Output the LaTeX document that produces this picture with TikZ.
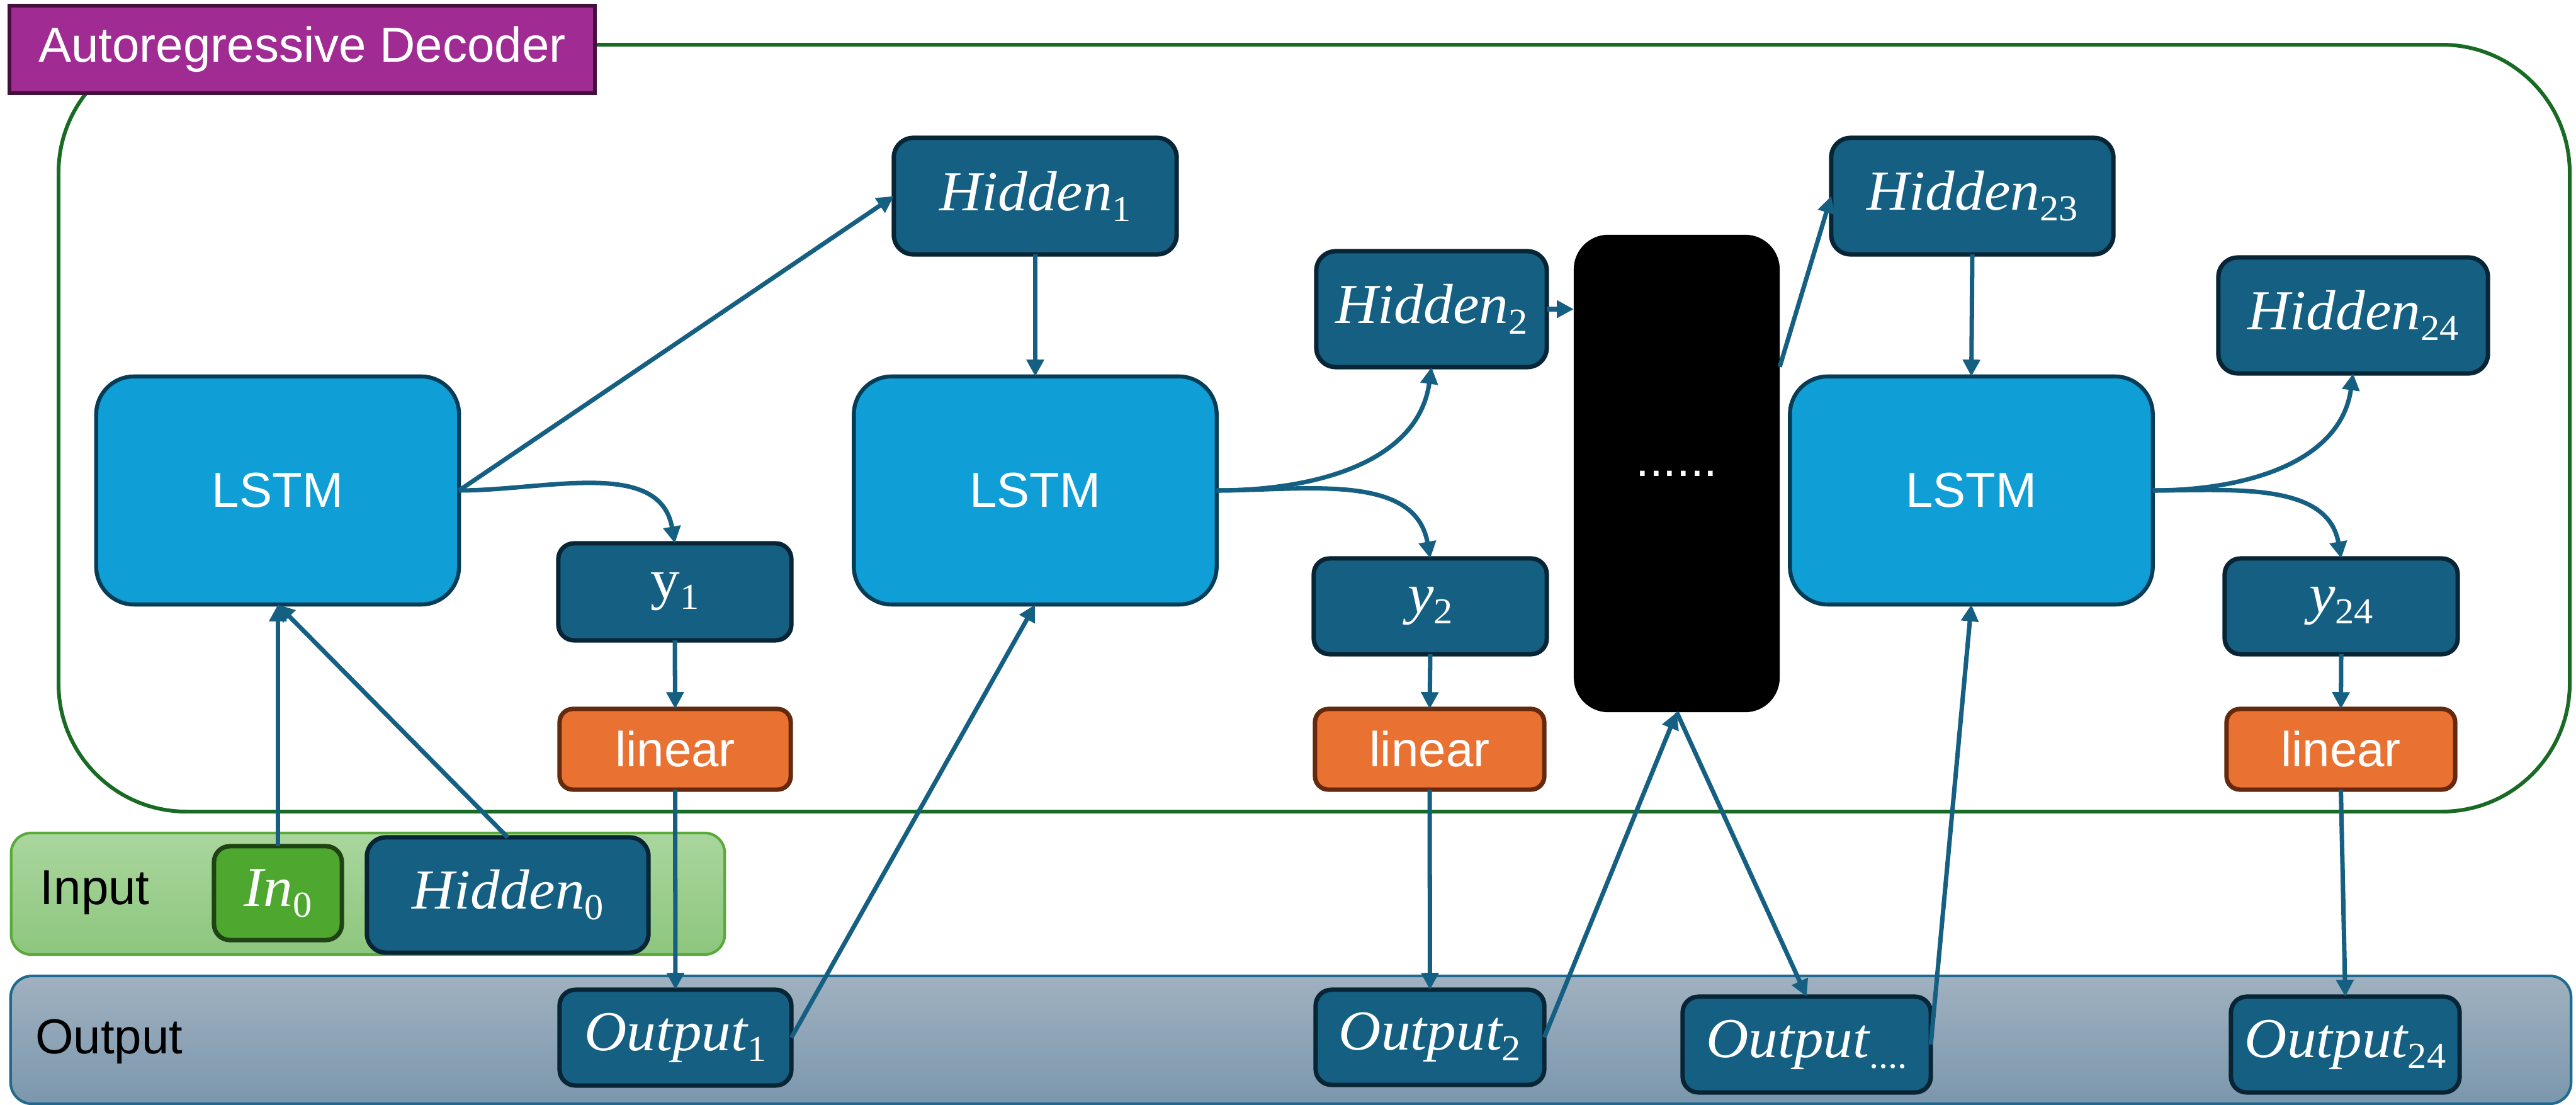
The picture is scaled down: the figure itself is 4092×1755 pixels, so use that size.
\documentclass[tikz,border=0pt]{standalone}
\usepackage{fontspec}
\setmainfont{Liberation Sans}
\newfontfamily\mathserif[FakeStretch=1.04]{Liberation Serif}
\usetikzlibrary{arrows.meta}

\definecolor{tealbox}{HTML}{156082}
\definecolor{tealedge}{HTML}{082536}
\definecolor{lstmfill}{HTML}{0F9ED5}
\definecolor{lstmedge}{HTML}{063D56}
\definecolor{linfill}{HTML}{E97132}
\definecolor{linedge}{HTML}{65290D}
\definecolor{framegreen}{HTML}{196B24}
\definecolor{labelfill}{HTML}{A02B93}
\definecolor{labeledge}{HTML}{42103B}
\definecolor{infill}{HTML}{4EA72E}
\definecolor{inedge}{HTML}{1F4312}
\definecolor{bandgreenA}{HTML}{AAD69D}
\definecolor{bandgreenB}{HTML}{8DC67E}
\definecolor{bandgreenedge}{HTML}{5AAA3A}
\definecolor{bandblueA}{HTML}{A0B1C0}
\definecolor{bandblueB}{HTML}{7B97AD}
\definecolor{bandblueedge}{HTML}{1F6A8E}
\definecolor{wire}{HTML}{156082}

% italic and upright math-like lettering with a lowered index
\newcommand\mi[1]{{\mathserif\itshape #1}}
\newcommand\mup[1]{{\mathserif #1}}
\newcommand\lsub[1]{\raisebox{-4.8pt}{\mathserif\fontsize{16.5pt}{16.5pt}\selectfont #1}}

\tikzset{
  every node/.style={inner sep=0pt, outer sep=0pt},
  sansfont/.style={font=\fontsize{22.2pt}{24pt}\selectfont},
  mathfont/.style={font=\fontsize{25.5pt}{27pt}\selectfont},
  tealnode/.style={draw=tealedge, fill=tealbox, line width=2pt, text=white, mathfont},
  lstmnode/.style={draw=lstmedge, fill=lstmfill, line width=1.8pt, text=white, sansfont,
    minimum width=5.76cm, minimum height=3.62cm, rounded corners=0.6cm},
  linnode/.style={draw=linedge, fill=linfill, line width=2pt, text=white, sansfont,
    minimum height=1.28cm, rounded corners=0.21cm},
  innode/.style={draw=inedge, fill=infill, line width=2pt, text=white, mathfont},
  conn/.style={draw=wire, line width=2pt, -{Triangle[length=7.6pt,width=7.6pt]}},
}

\begin{document}
\begin{tikzpicture}[x=0.01cm,y=0.01cm]
\useasboundingbox (0,0) rectangle (4092,-1755);

% decoder frame and its title
\draw[framegreen, line width=1.7pt, rounded corners=2.03cm] (93,-71) rectangle (4082,-1289);
\node[draw=labeledge, fill=labelfill, line width=1.7pt, text=white, sansfont,
  minimum width=9.30cm, minimum height=1.39cm] (title) at (480,-78.5) {Autoregressive Decoder};

% input and output bands
\node[draw=bandgreenedge, top color=bandgreenA, bottom color=bandgreenB, line width=1.2pt,
  minimum width=11.33cm, minimum height=1.93cm, rounded corners=0.32cm] (inband) at (584.5,-1419.5) {};
\node[sansfont, anchor=base west] (inlabel) at (64,-1436) {Input};
\node[draw=bandblueedge, top color=bandblueA, bottom color=bandblueB, line width=1.2pt,
  minimum width=40.65cm, minimum height=2.03cm, rounded corners=0.34cm] (outband) at (2050.5,-1651.5) {};
\node[sansfont, anchor=base west] (outlabel) at (56,-1673) {Output};

% inputs
\node[innode, minimum width=2.03cm, minimum height=1.49cm, rounded corners=0.25cm] (in0) at (441.5,-1418.5) {\mi{In}\lsub{0}};
\node[tealnode, minimum width=4.47cm, minimum height=1.83cm, rounded corners=0.30cm] (h0) at (806.5,-1421.5) {\mi{Hidden}\lsub{0}};

% LSTM cells
\node[lstmnode] (lstm1) at (441,-779) {LSTM};
\node[lstmnode] (lstm2) at (1644.5,-779) {LSTM};
\node[lstmnode] (lstm3) at (3131.5,-779) {LSTM};

% elided steps
\node[fill=black, text=white, sansfont, minimum width=3.27cm, minimum height=7.58cm,
  rounded corners=0.55cm] (gap) at (2663.5,-752) {......};

% hidden states
\node[tealnode, minimum width=4.49cm, minimum height=1.85cm, rounded corners=0.31cm] (h1) at (1644.5,-311.5) {\mi{Hidden}\lsub{1}};
\node[tealnode, minimum width=3.66cm, minimum height=1.84cm, rounded corners=0.31cm] (h2) at (2274,-491) {\mi{Hidden}\lsub{2}};
\node[tealnode, minimum width=4.48cm, minimum height=1.85cm, rounded corners=0.31cm] (h23) at (3133,-311.5) {\mi{Hidden}\lsub{23}};
\node[tealnode, minimum width=4.28cm, minimum height=1.84cm, rounded corners=0.31cm] (h24) at (3738,-501) {\mi{Hidden}\lsub{24}};

% step outputs
\node[tealnode, minimum width=3.70cm, minimum height=1.54cm, rounded corners=0.25cm] (y1) at (1072,-940) {\mup{y}\lsub{1}};
\node[tealnode, minimum width=3.70cm, minimum height=1.52cm, rounded corners=0.25cm] (y2) at (2272,-963) {\mi{y}\lsub{2}};
\node[tealnode, minimum width=3.70cm, minimum height=1.52cm, rounded corners=0.25cm] (y24) at (3719,-963) {\mi{y}\lsub{24}};

% linear layers
\node[linnode, minimum width=3.67cm] (lin1) at (1072.5,-1190) {linear};
\node[linnode, minimum width=3.64cm] (lin2) at (2271,-1190) {linear};
\node[linnode, minimum width=3.63cm] (lin3) at (3718.5,-1190) {linear};

% collected outputs
\node[tealnode, minimum width=3.68cm, minimum height=1.52cm, rounded corners=0.25cm] (o1) at (1073,-1648) {\mi{Output}\lsub{1}};
\node[tealnode, minimum width=3.63cm, minimum height=1.51cm, rounded corners=0.25cm] (o2) at (2271.5,-1647.5) {\mi{Output}\lsub{2}};
\node[tealnode, minimum width=3.94cm, minimum height=1.52cm, rounded corners=0.25cm] (odots) at (2870,-1659) {\mi{Output}\lsub{....}};
\node[tealnode, minimum width=3.63cm, minimum height=1.52cm, rounded corners=0.25cm] (o24) at (3725.5,-1659) {\mi{Output}\lsub{24}};

% connectors
\draw[conn] (in0.north) -- (in0.north |- lstm1.south);
\draw[conn] (h0.north) -- (lstm1.south);
\draw[conn] (lstm1.east) -- (h1.west);
\draw[conn] (lstm1.east) to[out=0,in=100] (y1.north);
\draw[conn] (y1.south) -- (lin1.north);
\draw[conn] (lin1.south) -- (o1.north);
\draw[conn] (o1.east) -- (lstm2.south);
\draw[conn] (h1.south) -- (lstm2.north);
\draw[conn] (lstm2.east) to[out=0,in=262] (h2.south);
\draw[conn] (lstm2.east) to[out=0,in=100] (y2.north);
\draw[conn] (h2.east) -- (h2.east -| gap.west);
\draw[conn] (y2.south) -- (lin2.north);
\draw[conn] (lin2.south) -- (o2.north);
\draw[conn] (o2.east) -- (gap.south);
\draw[conn] (gap.south) -- (odots.north);
\draw[conn] (odots.east) -- (lstm3.south);
\draw[conn] (gap.46.4) -- (h23.west);
\draw[conn] (h23.south) -- (lstm3.north);
\draw[conn] (lstm3.east) to[out=0,in=262] (h24.south);
\draw[conn] (lstm3.east) to[out=0,in=100] (y24.north);
\draw[conn] (y24.south) -- (lin3.north);
\draw[conn] (lin3.south) -- (o24.north);
\end{tikzpicture}
\end{document}
